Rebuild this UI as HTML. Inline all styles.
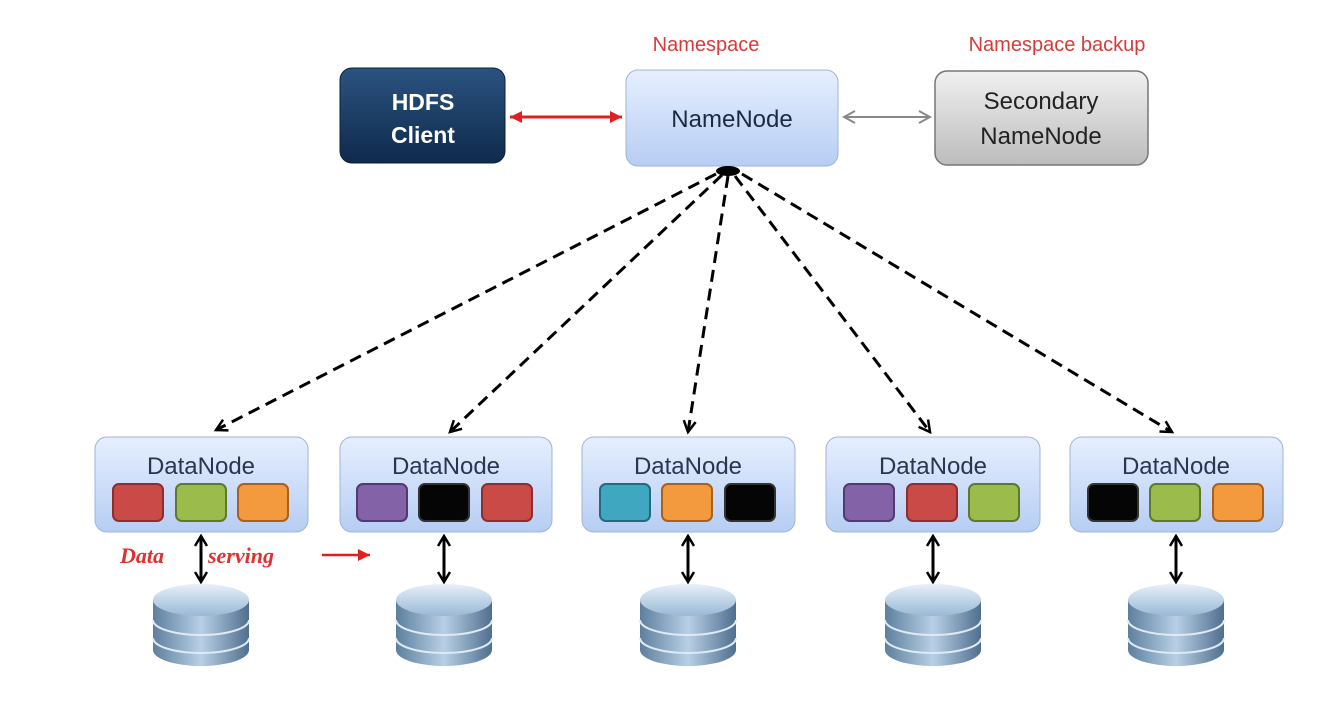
<!DOCTYPE html>
<html><head><style>
body{margin:0;background:#fff;}
svg{display:block;font-family:"Liberation Sans","DejaVu Sans",sans-serif;}
</style></head><body>
<svg width="1336" height="707" viewBox="0 0 1336 707" xmlns="http://www.w3.org/2000/svg">
<defs>
<linearGradient id="blue" x1="0" y1="0" x2="0" y2="1"><stop offset="0" stop-color="#e6efff"/><stop offset="1" stop-color="#b6cdf3"/></linearGradient>
<linearGradient id="dark" x1="0" y1="0" x2="0" y2="1"><stop offset="0" stop-color="#2b5380"/><stop offset="1" stop-color="#0f2a4c"/></linearGradient>
<linearGradient id="grey" x1="0" y1="0" x2="0" y2="1"><stop offset="0" stop-color="#f0f0f0"/><stop offset="1" stop-color="#bcbcbc"/></linearGradient>
<linearGradient id="cyl" x1="0" y1="0" x2="1" y2="0"><stop offset="0" stop-color="#5d7f9e"/><stop offset="0.5" stop-color="#b8d0e6"/><stop offset="1" stop-color="#4f6f8e"/></linearGradient>
<linearGradient id="top" x1="0" y1="0" x2="0" y2="1"><stop offset="0" stop-color="#e6f0fa"/><stop offset="1" stop-color="#9ab8d5"/></linearGradient>
<marker id="ab" markerUnits="userSpaceOnUse" markerWidth="16" markerHeight="16" refX="13" refY="8" orient="auto"><path d="M2,2 L13,8 L2,14" fill="none" stroke="#000" stroke-width="2.5"/></marker>
<marker id="ar" markerUnits="userSpaceOnUse" markerWidth="14" markerHeight="14" refX="12" refY="7" orient="auto-start-reverse"><path d="M0,1 L12,7 L0,13 Z" fill="#e02020"/></marker>
<marker id="ag" markerUnits="userSpaceOnUse" markerWidth="14" markerHeight="14" refX="12" refY="7" orient="auto-start-reverse"><path d="M1,1 L12,7 L1,13" fill="none" stroke="#888" stroke-width="2"/></marker>
<marker id="ak" markerUnits="userSpaceOnUse" markerWidth="14" markerHeight="14" refX="12" refY="7" orient="auto-start-reverse"><path d="M2,1 L12,7 L2,13" fill="none" stroke="#000" stroke-width="2.5"/></marker>
</defs>

<text x="706" y="51" font-size="20" fill="#d83a3a" text-anchor="middle">Namespace</text>
<text x="1057" y="51" font-size="20" fill="#d83a3a" text-anchor="middle">Namespace backup</text>

<rect x="340" y="68" width="165" height="95" rx="12" fill="url(#dark)" stroke="#0c1f38"/>
<text x="423" y="110" font-size="23" font-weight="bold" fill="#fff" text-anchor="middle">HDFS</text>
<text x="423" y="143" font-size="23" font-weight="bold" fill="#fff" text-anchor="middle">Client</text>

<rect x="626" y="70" width="212" height="96" rx="12" fill="url(#blue)" stroke="#9fb4d6"/>
<text x="732" y="127" font-size="24" fill="#1a2a44" text-anchor="middle">NameNode</text>

<rect x="935" y="71" width="213" height="94" rx="12" fill="url(#grey)" stroke="#777" stroke-width="1.5"/>
<text x="1041" y="109" font-size="24" fill="#222" text-anchor="middle">Secondary</text>
<text x="1041" y="144" font-size="24" fill="#222" text-anchor="middle">NameNode</text>

<line x1="510" y1="117" x2="622" y2="117" stroke="#e02020" stroke-width="3" marker-start="url(#ar)" marker-end="url(#ar)"/>
<line x1="844" y1="117" x2="930" y2="117" stroke="#888" stroke-width="2" marker-start="url(#ag)" marker-end="url(#ag)"/>

<g stroke="#000" stroke-width="3" stroke-dasharray="12,7" fill="none">
<line x1="716" y1="174" x2="216" y2="430" marker-end="url(#ab)"/>
<line x1="722" y1="175" x2="450" y2="432" marker-end="url(#ab)"/>
<line x1="728" y1="176" x2="688" y2="432" marker-end="url(#ab)"/>
<line x1="735" y1="176" x2="930" y2="432" marker-end="url(#ab)"/>
<line x1="742" y1="174" x2="1172" y2="432" marker-end="url(#ab)"/>
</g>
<ellipse cx="728" cy="171" rx="12" ry="5" fill="#000"/>

<g font-size="24" fill="#2a3550" text-anchor="middle">
<rect x="95" y="437" width="213" height="95" rx="12" fill="url(#blue)" stroke="#9fb4d6"/>
<text x="201" y="474">DataNode</text>
<rect x="340" y="437" width="212" height="95" rx="12" fill="url(#blue)" stroke="#9fb4d6"/>
<text x="446" y="474">DataNode</text>
<rect x="582" y="437" width="213" height="95" rx="12" fill="url(#blue)" stroke="#9fb4d6"/>
<text x="688" y="474">DataNode</text>
<rect x="826" y="437" width="214" height="95" rx="12" fill="url(#blue)" stroke="#9fb4d6"/>
<text x="933" y="474">DataNode</text>
<rect x="1070" y="437" width="213" height="95" rx="12" fill="url(#blue)" stroke="#9fb4d6"/>
<text x="1176" y="474">DataNode</text>
</g>
<g stroke-width="2">
<rect x="113" y="484" width="50" height="37" rx="6" fill="#c94a47" stroke="#8a2f2d"/>
<rect x="176" y="484" width="50" height="37" rx="6" fill="#9bbb4d" stroke="#5d7a2b"/>
<rect x="238" y="484" width="50" height="37" rx="6" fill="#f39a3e" stroke="#a9601c"/>
<rect x="357" y="484" width="50" height="37" rx="6" fill="#8462a7" stroke="#503a70"/>
<rect x="419" y="484" width="50" height="37" rx="6" fill="#050505" stroke="#333"/>
<rect x="482" y="484" width="50" height="37" rx="6" fill="#c94a47" stroke="#8a2f2d"/>
<rect x="600" y="484" width="50" height="37" rx="6" fill="#3fa8c0" stroke="#236a7a"/>
<rect x="662" y="484" width="50" height="37" rx="6" fill="#f39a3e" stroke="#a9601c"/>
<rect x="725" y="484" width="50" height="37" rx="6" fill="#050505" stroke="#333"/>
<rect x="844" y="484" width="50" height="37" rx="6" fill="#8462a7" stroke="#503a70"/>
<rect x="907" y="484" width="50" height="37" rx="6" fill="#c94a47" stroke="#8a2f2d"/>
<rect x="969" y="484" width="50" height="37" rx="6" fill="#9bbb4d" stroke="#5d7a2b"/>
<rect x="1088" y="484" width="50" height="37" rx="6" fill="#050505" stroke="#333"/>
<rect x="1150" y="484" width="50" height="37" rx="6" fill="#9bbb4d" stroke="#5d7a2b"/>
<rect x="1213" y="484" width="50" height="37" rx="6" fill="#f39a3e" stroke="#a9601c"/>
</g>

<g stroke="#000" stroke-width="3">
<line x1="201" y1="536" x2="201" y2="582" marker-start="url(#ak)" marker-end="url(#ak)"/>
<line x1="444" y1="536" x2="444" y2="582" marker-start="url(#ak)" marker-end="url(#ak)"/>
<line x1="688" y1="536" x2="688" y2="582" marker-start="url(#ak)" marker-end="url(#ak)"/>
<line x1="933" y1="536" x2="933" y2="582" marker-start="url(#ak)" marker-end="url(#ak)"/>
<line x1="1176" y1="536" x2="1176" y2="582" marker-start="url(#ak)" marker-end="url(#ak)"/>
</g>

<text x="120" y="563" font-size="22" font-style="italic" font-weight="bold" fill="#e03030" font-family="Liberation Serif,serif">Data</text>
<text x="208" y="563" font-size="22" font-style="italic" font-weight="bold" fill="#e03030" font-family="Liberation Serif,serif">serving</text>
<line x1="322" y1="555" x2="370" y2="555" stroke="#e02020" stroke-width="2.5" marker-end="url(#ar)"/>

<g id="c">
<path d="M153,600 v50 a48,16 0 0 0 96,0 v-50 z" fill="url(#cyl)"/>
<path d="M153,620 a48,15 0 0 0 96,0 M153,638 a48,15 0 0 0 96,0" fill="none" stroke="#dfeaf5" stroke-width="2"/>
<ellipse cx="201" cy="600" rx="48" ry="16" fill="url(#top)"/>
</g>
<use href="#c" x="243"/>
<use href="#c" x="487"/>
<use href="#c" x="732"/>
<use href="#c" x="975"/>
</svg>
</body></html>
